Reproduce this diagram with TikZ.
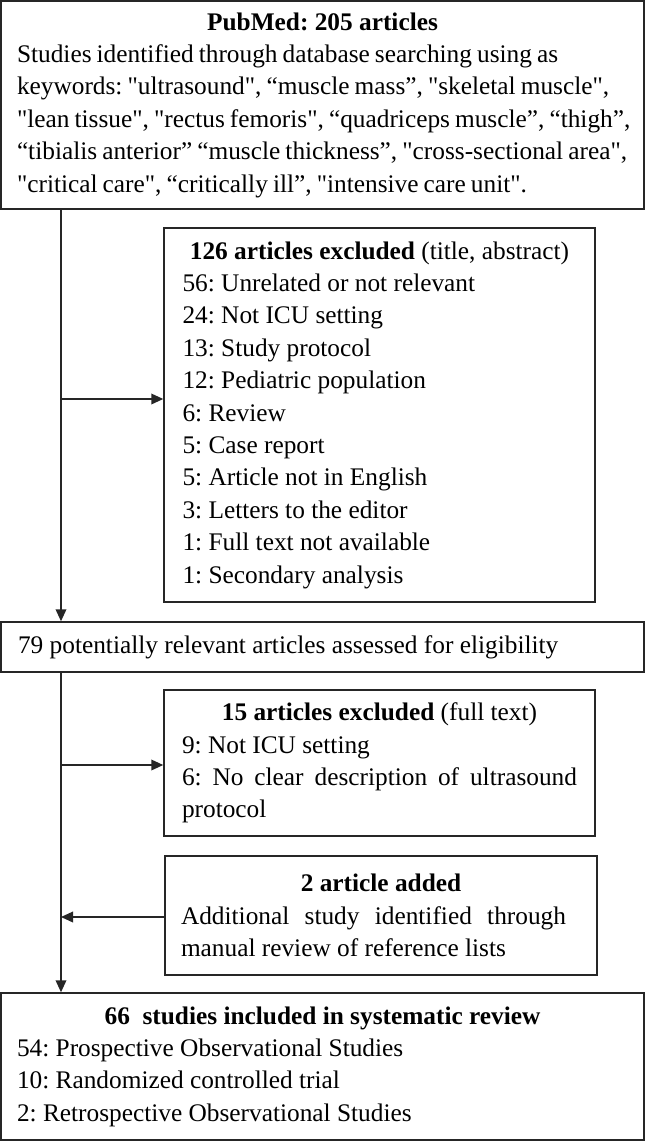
\documentclass[tikz,border=0pt]{standalone}
\usepackage{fontspec}
\setmainfont{Liberation Serif}[Ligatures=TeXOff]
\usetikzlibrary{arrows.meta}
\newcommand{\LftLn}[2]{\makebox[#1][l]{#2}}
\newcommand{\CtrLn}[2]{\makebox[#1][c]{#2}}
\newcommand{\JstLn}[2]{\makebox[#1][s]{#2}}
\frenchspacing
\begin{document}
\frenchspacing
\begin{tikzpicture}[x=0.75pt,y=-0.75pt,
  box/.style={draw=black!85, line width=1.1pt, rectangle, inner sep=0pt,
    align=left, font=\fontsize{19}{24.3}\selectfont\frenchspacing, text=black},
  arr/.style={draw=black!85, line width=1.1pt, -{Triangle[length=9pt,width=8pt]}}]
\useasboundingbox (0,0) rectangle (646,1141);

\node[box, minimum width=482.25pt, minimum height=156pt] (b1) at (322.5,105) {%
\CtrLn{458.25pt}{\textbf{PubMed: 205 articles}}\\
\LftLn{458.25pt}{\spaceskip=0.2em plus 0.05em Studies identified through database searching using as}\\
\LftLn{458.25pt}{\spaceskip=0.2em plus 0.05em keywords: "ultrasound", “muscle mass”, "skeletal muscle",}\\
\LftLn{458.25pt}{\spaceskip=0.2em plus 0.05em "lean tissue", "rectus femoris", “quadriceps muscle”, “thigh”,}\\
\LftLn{458.25pt}{\spaceskip=0.2em plus 0.05em “tibialis anterior” “muscle thickness”, "cross-sectional area",}\\
\LftLn{458.25pt}{\spaceskip=0.2em plus 0.05em "critical care", “critically ill”, "intensive care unit".}};

\node[box, minimum width=323.25pt, minimum height=280.5pt] (b2) at (379.5,415) {%
\CtrLn{295.5pt}{\textbf{126 articles excluded} (title, abstract)}\\
\LftLn{295.5pt}{56: Unrelated or not relevant}\\
\LftLn{295.5pt}{24: Not ICU setting}\\
\LftLn{295.5pt}{13: Study protocol}\\
\LftLn{295.5pt}{12: Pediatric population}\\
\LftLn{295.5pt}{6: Review}\\
\LftLn{295.5pt}{5: Case report}\\
\LftLn{295.5pt}{5: Article not in English}\\
\LftLn{295.5pt}{3: Letters to the editor}\\
\LftLn{295.5pt}{1: Full text not available}\\
\LftLn{295.5pt}{1: Secondary analysis}};

\node[box, minimum width=482.25pt, minimum height=37.5pt] (b3) at (322.5,647) {%
\LftLn{456.75pt}{79 potentially relevant articles assessed for eligibility}};

\node[box, minimum width=323.25pt, minimum height=109.5pt] (b4) at (379.5,763) {%
\CtrLn{296.25pt}{\textbf{15 articles excluded} (full text)}\\
\LftLn{296.25pt}{9: Not ICU setting}\\
\JstLn{296.25pt}{6: No clear description of ultrasound}\\
\LftLn{296.25pt}{protocol}};

\node[box, minimum width=324pt, minimum height=89.25pt] (b5) at (381,915.5) {%
\CtrLn{300pt}{\textbf{2 article added}}\\
\LftLn{300pt}{\JstLn{288.75pt}{Additional study identified through}}\\
\LftLn{300pt}{manual review of reference lists}};

\node[box, minimum width=482.25pt, minimum height=110.25pt] (b6) at (322.5,1066.5) {%
\CtrLn{458.25pt}{\textbf{66\ \ studies included in systematic review}}\\
\LftLn{458.25pt}{54: Prospective Observational Studies}\\
\LftLn{458.25pt}{10: Randomized controlled trial}\\
\LftLn{458.25pt}{2: Retrospective Observational Studies}};

\coordinate (j1) at (61,399);
\coordinate (j2) at (61,765);
\coordinate (j3) at (61,917);

\draw[arr] (b1.south -| j1) -- (b3.north -| j1);
\draw[arr] (j1) -- (j1 -| b2.west);
\draw[arr] (b3.south -| j1) -- (b6.north -| j1);
\draw[arr] (j2) -- (j2 -| b4.west);
\draw[arr] (b5.west |- j3) -- (j3);
\end{tikzpicture}
\end{document}
